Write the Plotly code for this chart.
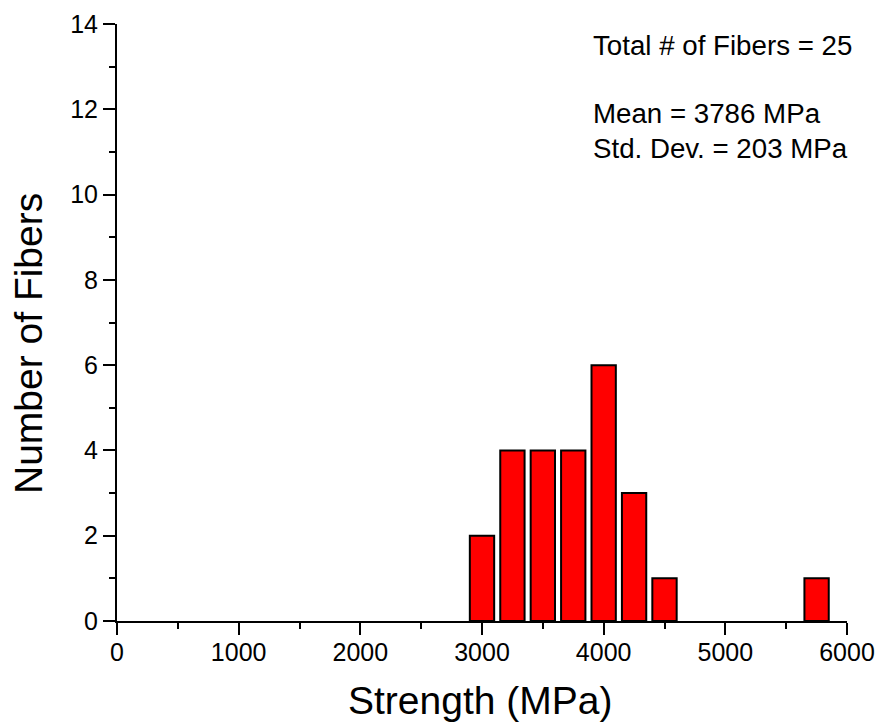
import plotly.graph_objects as go

# Data
bin_centers = [3000, 3250, 3500, 3750, 4000, 4250, 4500, 5750]
counts = [2, 4, 4, 4, 6, 3, 1, 1]
bin_width = 200
x_ticks = [0, 1000, 2000, 3000, 4000, 5000, 6000]
y_ticks = [0, 2, 4, 6, 8, 10, 12, 14]
stats_lines = ["Total # of Fibers = 25", "Mean = 3786 MPa", "Std. Dev. = 203 MPa"]
x_title = "Strength (MPa)"
y_title = "Number of Fibers"

FONT = "Liberation Sans, Arial, sans-serif"

fig = go.Figure()
fig.add_trace(go.Bar(
    x=bin_centers, y=counts, width=[bin_width] * len(bin_centers),
    marker=dict(color="#ff0000", line=dict(color="black", width=2)),
    showlegend=False,
))

axis_common = dict(
    showline=True, linecolor="black", linewidth=2,
    ticks="outside", ticklen=12, tickwidth=2, tickcolor="black",
    showgrid=False, zeroline=False, mirror=False, automargin=False,
    tickfont=dict(family=FONT, size=25, color="black"),
)

fig.update_xaxes(
    range=[0, 6000], tickvals=x_ticks, ticklabelstandoff=-4,
    minor=dict(dtick=500, ticks="outside", ticklen=6, tickwidth=2, tickcolor="black", showgrid=False),
    **axis_common,
)
fig.update_yaxes(
    range=[0, 14], tickvals=y_ticks,
    minor=dict(dtick=1, ticks="outside", ticklen=6, tickwidth=2, tickcolor="black", showgrid=False),
    **axis_common,
)

# axis titles as annotations for precise placement
fig.add_annotation(
    text=x_title, xref="paper", yref="paper", x=0.497, y=-0.134,
    xanchor="center", yanchor="middle", showarrow=False,
    font=dict(family=FONT, size=39, color="black"),
)
fig.add_annotation(
    text=y_title, xref="paper", yref="paper", x=-0.1205, y=0.464,
    xanchor="center", yanchor="middle", showarrow=False, textangle=-90,
    font=dict(family=FONT, size=39, color="black"),
)

for txt, yy in zip(stats_lines, [0.9648, 0.8504, 0.7918]):
    fig.add_annotation(
        text=txt, xref="paper", yref="paper", x=0.649, y=yy,
        xanchor="left", yanchor="middle", align="left", showarrow=False,
        font=dict(family=FONT, size=27.7, color="black"),
    )

fig.update_layout(
    width=881, height=726,
    margin=dict(l=117, r=34, t=24, b=105),
    plot_bgcolor="white", paper_bgcolor="white",
    font=dict(family=FONT, color="black"),
)

fig.write_html(
    "out.html",
    config={"displayModeBar": False},
    post_script="document.body.style.margin='0';document.body.style.overflow='hidden';",
)
